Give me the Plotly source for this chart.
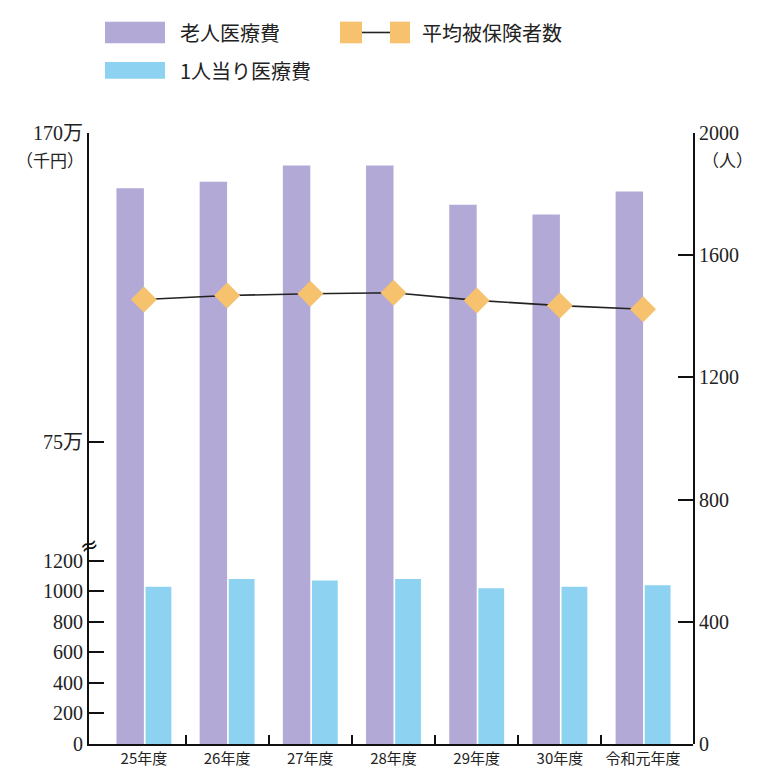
import plotly.graph_objects as go

# ---- data ----
years = ["25年度", "26年度", "27年度", "28年度", "29年度", "30年度", "令和元年度"]
elderly_cost_man = [153, 155, 160, 160, 148, 145, 152]          # 老人医療費 (万・千円)
per_capita_cost = [1030, 1080, 1070, 1080, 1020, 1030, 1040]     # 1人当り医療費 (千円)
avg_insured = [1455, 1468, 1474, 1477, 1452, 1435, 1423]         # 平均被保険者数 (人)

lower_ticks = [0, 200, 400, 600, 800, 1000, 1200]
upper_ticks = [75, 170]
upper_ticktext = ["75万", "170万"]
right_ticks = [0, 400, 800, 1200, 1600, 2000]
boundary_ticks = [0.5, 1.5, 2.5, 3.5, 4.5, 5.5]

# ---- styling ----
W, H = 773, 780
L, R, T, B = 89, 693, 133, 753
PURPLE = "#b3a9d6"
BLUE = "#8dd3f1"
ORANGE = "#f6c26e"
NUM_FONT = "Liberation Serif, Noto Sans CJK JP"
JP_FONT = "Noto Sans CJK JP"
BREAK_PX = 552            # pixel row where the left axis is broken


def px_x(x):
    return (x - L) / (R - L)


def px_y(y):
    return (B - y) / (B - T)


split = px_y(BREAK_PX)
idx = list(range(len(years)))

fig = go.Figure()

# purple bars: lower segment (runs through the whole lower panel) and upper segment
fig.add_trace(go.Bar(x=idx, y=[v * 10000 for v in elderly_cost_man], xaxis="x", yaxis="y",
                     marker=dict(color=PURPLE, line=dict(width=0)),
                     width=0.33, offset=-0.33, name="老人医療費", showlegend=False))
fig.add_trace(go.Bar(x=idx, y=per_capita_cost, xaxis="x", yaxis="y",
                     marker=dict(color=BLUE, line=dict(width=0)),
                     width=0.31, offset=0.02, name="1人当り医療費", showlegend=False))
fig.add_trace(go.Bar(x=idx, y=elderly_cost_man, xaxis="x", yaxis="y2",
                     marker=dict(color=PURPLE, line=dict(width=0)),
                     width=0.33, offset=-0.33, name="老人医療費", showlegend=False))
# line on the right axis
fig.add_trace(go.Scatter(x=idx, y=avg_insured, xaxis="x", yaxis="y3", mode="lines+markers",
                         line=dict(color="#222222", width=1.6),
                         marker=dict(symbol="diamond", size=20, color=ORANGE),
                         name="平均被保険者数", showlegend=False))

axis_common = dict(showline=True, linecolor="#111111", linewidth=2, showgrid=False,
                   zeroline=False, ticks="inside", tickcolor="#111111", tickwidth=2,
                   tickfont=dict(family=NUM_FONT, size=20, color="#222222"))

fig.update_layout(
    width=W, height=H,
    margin=dict(l=L, r=W - R, t=T, b=H - B, pad=0),
    paper_bgcolor="white", plot_bgcolor="rgba(0,0,0,0)",
    barmode="overlay",
    xaxis=dict(range=[-0.66, 6.6], domain=[0, 1], anchor="y", showline=True,
               linecolor="#111111", linewidth=2, showgrid=False, zeroline=False,
               tickmode="array", tickvals=idx, ticktext=years, ticks="",
               tickfont=dict(family=JP_FONT, size=15, color="#222222"),
               minor=dict(tickmode="array", tickvals=boundary_ticks, ticks="inside",
                          ticklen=9, tickwidth=2, tickcolor="#111111", showgrid=False)),
    yaxis=dict(domain=[0, split], range=[0, 1297], anchor="x", side="left",
               tickmode="array", tickvals=lower_ticks, ticklen=15, **axis_common),
    yaxis2=dict(domain=[split, 1], range=[43.2, 170], anchor="x", side="left",
                tickmode="array", tickvals=upper_ticks, ticktext=upper_ticktext,
                ticklen=15, **axis_common),
    yaxis3=dict(domain=[0, 1], range=[0, 2000], anchor="x", side="right",
                tickmode="array", tickvals=right_ticks, ticklen=15, **axis_common),
)

annotations = [
    dict(text="（千円）", x=px_x(86), y=px_y(160), xanchor="right", yanchor="middle",
         font=dict(family=JP_FONT, size=17, color="#222222")),
    dict(text="（人）", x=px_x(700), y=px_y(160), xanchor="left", yanchor="middle",
         font=dict(family=JP_FONT, size=17, color="#222222")),
    dict(text="≈", x=px_x(L), y=px_y(BREAK_PX), xanchor="center", yanchor="middle",
         textangle=-20, font=dict(family="DejaVu Sans", size=22, color="#111111")),
    # legend text
    dict(text="老人医療費", x=px_x(178), y=px_y(31), xanchor="left", yanchor="middle",
         font=dict(family=JP_FONT, size=20, color="#222222")),
    dict(text="平均被保険者数", x=px_x(420), y=px_y(31), xanchor="left", yanchor="middle",
         font=dict(family=JP_FONT, size=20, color="#222222")),
    dict(text="1人当り医療費", x=px_x(178), y=px_y(70), xanchor="left", yanchor="middle",
         font=dict(family=JP_FONT, size=20, color="#222222")),
]
for a in annotations:
    a.update(xref="paper", yref="paper", showarrow=False)
fig.update_layout(annotations=annotations)

# legend swatches
shapes = [
    dict(type="rect", x0=px_x(105), x1=px_x(165), y0=px_y(42), y1=px_y(20),
         fillcolor=PURPLE, line=dict(width=0)),
    dict(type="rect", x0=px_x(105), x1=px_x(165), y0=px_y(78), y1=px_y(61),
         fillcolor=BLUE, line=dict(width=0)),
    dict(type="line", x0=px_x(360), x1=px_x(392), y0=px_y(31), y1=px_y(31),
         line=dict(color="#222222", width=1.6)),
    dict(type="rect", x0=px_x(340), x1=px_x(362), y0=px_y(42), y1=px_y(20),
         fillcolor=ORANGE, line=dict(width=0)),
    dict(type="rect", x0=px_x(390), x1=px_x(410), y0=px_y(42), y1=px_y(20),
         fillcolor=ORANGE, line=dict(width=0)),
]
for s in shapes:
    s.update(xref="paper", yref="paper", layer="above")
fig.update_layout(shapes=shapes)

fig.write_html("out.html")
